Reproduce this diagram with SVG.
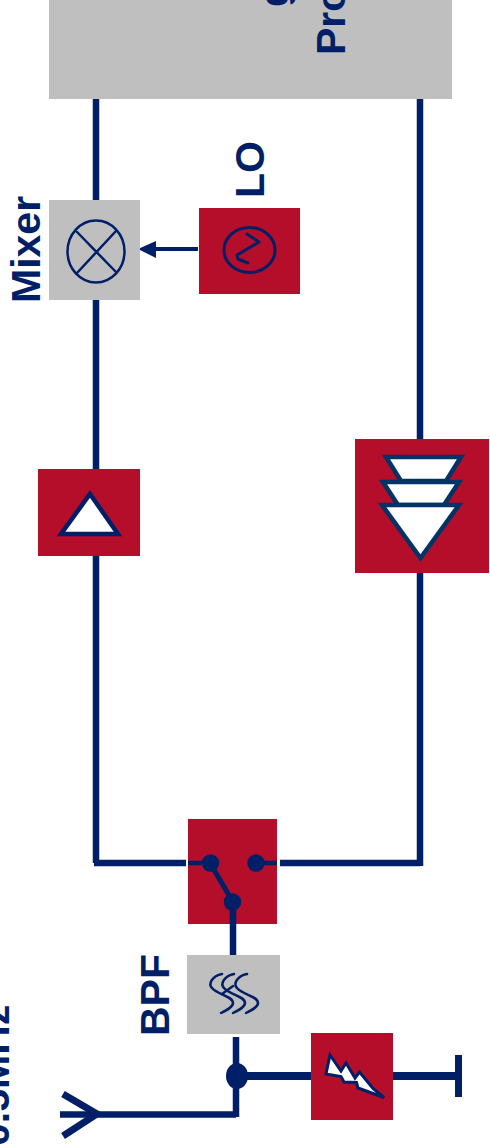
<svg xmlns="http://www.w3.org/2000/svg" width="490" height="1147" viewBox="0 0 490 1147">
<style>
.red{fill:#b40e2a}
.gray{fill:#bfbfbf}
.lbl{font-family:"Liberation Sans",Arial,sans-serif;font-weight:700;font-size:41px;fill:#001f66}
.w{fill:none;stroke:#001f66;stroke-width:6.500}
.fine{fill:none;stroke:#001f66;stroke-width:2.500;stroke-linecap:round;stroke-linejoin:round}
.tri{fill:#fff;stroke:#003366;stroke-width:4.500}
</style>
<rect width="490" height="1147" fill="#fff"/>
<g id="connectors">
<path class="w" d="M96 99V200M96 300V469M96 556V863M94 863H186M280 863H420M420 99V439M420 573V866"/>
<path class="w" d="M233 924V955M236 1037V1117M60 1114.500H236"/>
<path class="w" style="stroke-width:8" d="M237 1076H311M393 1076H458"/>
<path class="w" style="stroke-width:7" d="M458.500 1055V1097M63 1094L97 1114L63 1136"/>
<path class="w" style="stroke-width:4" d="M198 249H154"/>
<path d="M138 249L156 241V258Z" fill="#001f66"/>
<ellipse cx="237" cy="1076" rx="11" ry="13" fill="#001f66"/>
</g>
<g id="processor">
<rect class="gray" x="49" y="0" width="403" height="99"/>
<text class="lbl" transform="translate(345 55) rotate(-90)">Pro</text>
<text class="lbl" transform="translate(288 7) rotate(-90)">g</text>
</g>
<g id="mixer">
<rect class="gray" x="49" y="200" width="91" height="100"/>
<ellipse class="fine" cx="96" cy="251.500" rx="28.500" ry="31"/>
<path class="fine" d="M77 232L116 272M77 273L116 231"/>
<text class="lbl" transform="translate(40 303) rotate(-90)">Mixer</text>
</g>
<g id="lo">
<rect class="red" x="199" y="208" width="101" height="86"/>
<ellipse class="fine" style="stroke-width:3" cx="249.500" cy="250" rx="25.500" ry="22.500"/>
<path class="fine" style="stroke-width:3" d="M247 234L259 242L237 255L238 259L248 263"/>
<text class="lbl" transform="translate(264 198) rotate(-90)">LO</text>
</g>
<g id="amplifier">
<rect class="red" x="38" y="469" width="102" height="87"/>
<path class="tri" style="stroke:#001f66" d="M90 494L118 534H61Z"/>
</g>
<g id="attenuator">
<rect class="red" x="355" y="439" width="134" height="134"/>
<path class="tri" d="M386 457H461L446 481H401Z"/>
<path class="tri" d="M383 482H459L444 505H398Z"/>
<path class="tri" d="M382 505H459L420.500 558Z"/>
</g>
<g id="switch">
<rect class="red" x="188" y="819" width="89" height="105"/>
<path class="w" style="stroke-width:4.500" d="M188 863H210M256 863H277"/>
<path class="w" style="stroke-width:5" d="M210 863L233 902"/>
<path class="w" d="M233 902V924"/>
<circle cx="210.500" cy="863" r="8.700" fill="#001f66"/>
<circle cx="256" cy="863" r="8.700" fill="#001f66"/>
<circle cx="232.500" cy="902" r="8.700" fill="#001f66"/>
</g>
<g id="bpf">
<rect class="gray" x="187" y="955" width="93" height="79"/>
<path class="fine" d="M222 974C212 976 208 984 212 988C218 995 233 996 233 1003C233 1007 227 1010 221 1013"/>
<path class="fine" d="M234 974C224 976 220 984 224 988C230 995 245 996 245 1003C245 1007 239 1010 233 1013"/>
<path class="fine" d="M247 974C237 976 233 984 237 988C243 995 258 996 258 1003C258 1007 252 1010 246 1013"/>
<path class="fine" d="M222 994L233 986"/>
<text class="lbl" transform="translate(169 1036) rotate(-90)">BPF</text>
</g>
<g id="limiter">
<rect class="red" x="311" y="1033" width="82" height="87"/>
<path d="M330 1055L341 1071L346 1063L355 1078L359.500 1072L373 1088.500L384 1097.500L358 1088L356.500 1082.500L344 1082L341 1076.500L326 1074Z" fill="#fff" stroke="#001f66" stroke-width="3"/>
</g>
<g id="frequency-label">
<text class="lbl" transform="translate(9 1146) rotate(-90)">0.5MHz</text>
</g>
</svg>
